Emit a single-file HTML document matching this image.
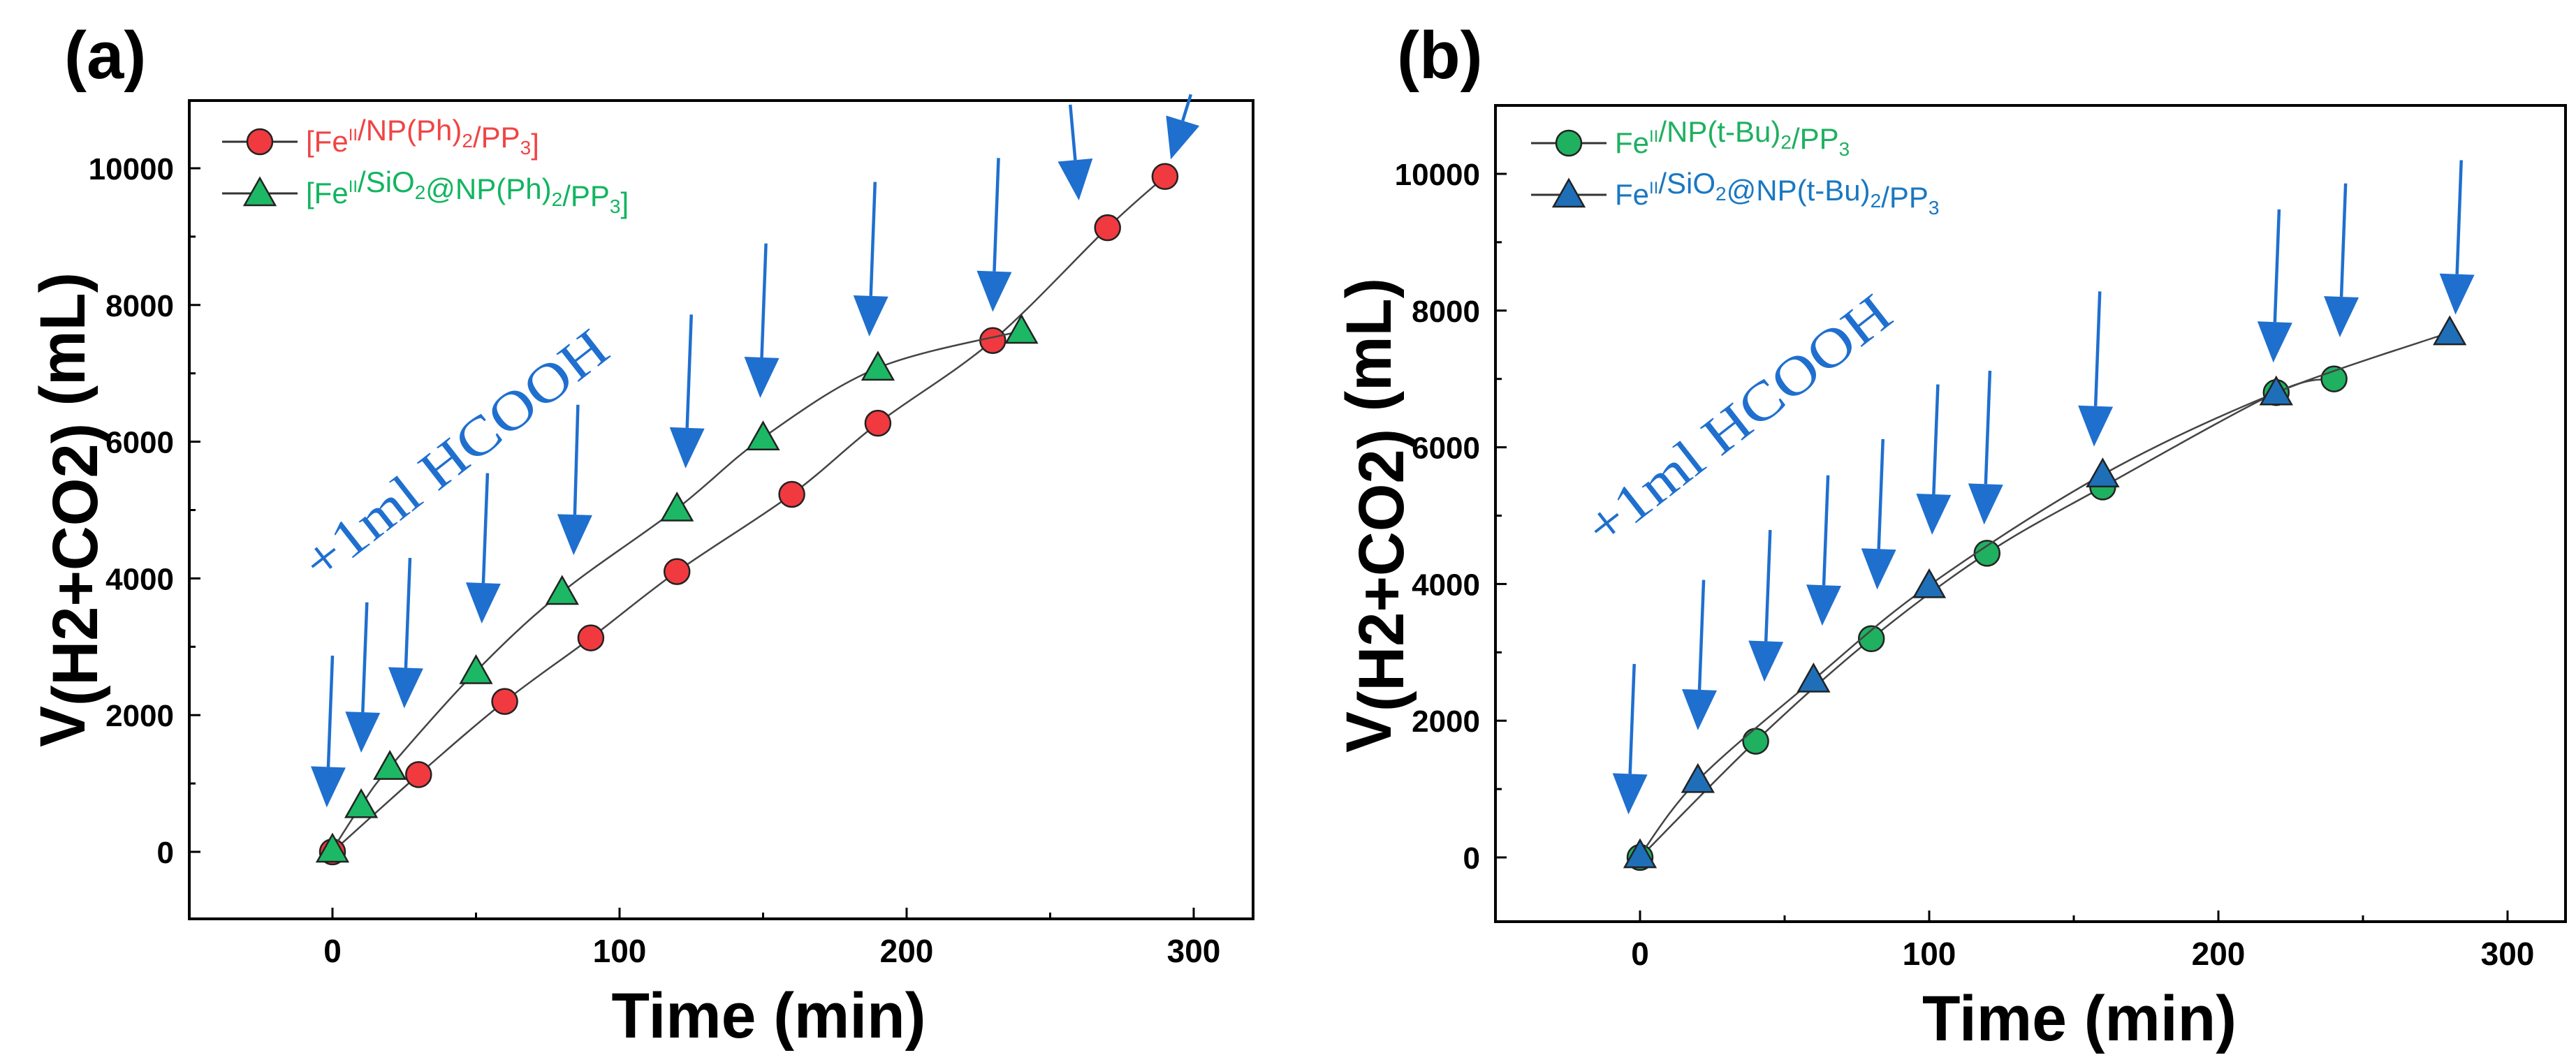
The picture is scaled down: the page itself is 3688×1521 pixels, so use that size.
<!DOCTYPE html>
<html><head><meta charset="utf-8">
<style>
html,body{margin:0;padding:0;background:#fff;}
svg{display:block;}
text{font-family:"Liberation Sans",sans-serif;}
</style></head>
<body>
<svg id="fig" width="3688" height="1521" viewBox="0 0 3688 1521" xmlns="http://www.w3.org/2000/svg">
<rect width="3688" height="1521" fill="#fff"/>
</svg>
<script>
// ---------- Panel (a) data ----------
const aRedX = [0,30,60,90,120,160,190,230,270,290];
const aRedY = [0,1130,2200,3130,4100,5230,6270,7480,9130,9880];
const aGreenX = [0,10,20,50,80,120,150,190,240];
const aGreenY = [30,680,1240,2640,3800,5020,6060,7080,7620];
const aArrowX = [-2,10,25,52,84,123,149,187,230,260,292];
const aArrowY = [650,1450,2100,3340,4340,5610,6640,7540,7900,9530,10130];
const aArrowDX = [2,2,2,2,1.5,2,2,2,2,-3,7];
const aArrowDY = [2220,2200,2200,2200,2200,2250,2260,2260,2250,1400,950];
// ---------- Panel (b) data ----------
const bGreenX = [0,40,80,120,160,220,240];
const bGreenY = [0,1700,3200,4450,5420,6800,7000];
const bBlueX = [0,20,60,100,160,220,280];
const bBlueY = [30,1130,2600,3980,5600,6800,7680];
const bArrowX = [-4,20,43,63,82,101,119,157,219,242,282];
const bArrowY = [630,1860,2570,3390,3920,4720,4870,6010,7240,7610,7940];
const bArrowDX = [2,2,2,2,2,2,2,2,2,2,2];
const bArrowDY = [2200,2200,2220,2200,2200,2200,2250,2270,2240,2250,2260];
// ---------- ticks ----------
const xTicks = [0,100,200,300];
const xMinor = [-50,50,150,250];
const yTicks = [0,2000,4000,6000,8000,10000];
const yMinor = [-1000,1000,3000,5000,7000,9000];

const NS="http://www.w3.org/2000/svg";
const svg=document.getElementById('fig');
function mk(tag,attrs,parent){const e=document.createElementNS(NS,tag);for(const k in attrs)e.setAttribute(k,attrs[k]);(parent||svg).appendChild(e);return e;}

function spline(pts){
  if(pts.length<2)return '';
  let d='M'+pts[0][0]+','+pts[0][1];
  for(let i=0;i<pts.length-1;i++){
    const p0=pts[Math.max(0,i-1)],p1=pts[i],p2=pts[i+1],p3=pts[Math.min(pts.length-1,i+2)];
    const c1x=p1[0]+(p2[0]-p0[0])/6,c1y=p1[1]+(p2[1]-p0[1])/6;
    const c2x=p2[0]-(p3[0]-p1[0])/6,c2y=p2[1]-(p3[1]-p1[1])/6;
    d+=' C'+c1x+','+c1y+' '+c2x+','+c2y+' '+p2[0]+','+p2[1];
  }
  return d;
}

function panel(cfg){
  const g=mk('g',{});
  
  
  const sx=v=>cfg.x0+(v/300)*(cfg.x300-cfg.x0);
  const sy=v=>cfg.y0-(v/10000)*(cfg.y0-cfg.y10k);
  const lab=mk('text',{x:cfg.labX,y:cfg.labY,'font-size':96,'font-weight':'bold',fill:'#000'},g);
  lab.textContent=cfg.label;
  
  
  const fr=mk('rect',{x:cfg.L,y:cfg.T,width:cfg.R-cfg.L,height:cfg.B-cfg.T,fill:'none',stroke:'#000','stroke-width':4},g);
  
  
  xTicks.forEach(v=>{
    const t=mk('line',{x1:sx(v),x2:sx(v),y1:cfg.B,y2:cfg.B-16,stroke:'#000','stroke-width':3},g);
    
    
    const tx=mk('text',{x:sx(v),y:cfg.B+62,'font-size':46,'font-weight':'bold','text-anchor':'middle'},g);
    tx.textContent=String(v);
    
    
  });
  xMinor.forEach(v=>{
    if(sx(v)<cfg.L||sx(v)>cfg.R)return;
    const t=mk('line',{x1:sx(v),x2:sx(v),y1:cfg.B,y2:cfg.B-9,stroke:'#000','stroke-width':3},g);
    
    
  });
  yTicks.forEach(v=>{
    const t=mk('line',{x1:cfg.L,x2:cfg.L+16,y1:sy(v),y2:sy(v),stroke:'#000','stroke-width':3},g);
    
    
    const tx=mk('text',{x:cfg.L-22,y:sy(v)+16,'font-size':44,'font-weight':'bold','text-anchor':'end'},g);
    tx.textContent=String(v);
    
    
  });
  yMinor.forEach(v=>{
    if(sy(v)>cfg.B-4||sy(v)<cfg.T+4)return;
    const t=mk('line',{x1:cfg.L,x2:cfg.L+9,y1:sy(v),y2:sy(v),stroke:'#000','stroke-width':3},g);
    
    
  });
  const xt=mk('text',{x:(cfg.x0+cfg.x300)/2+8,y:cfg.B+170,'font-size':92,'font-weight':'bold','text-anchor':'middle',textLength:450,lengthAdjust:'spacingAndGlyphs'},g);
  xt.textContent='Time (min)';
  
  
  const yt=mk('text',{transform:'translate('+(cfg.L-150)+','+(cfg.y0-490)+') rotate(-90)','font-size':92,'font-weight':'bold','text-anchor':'middle',textLength:680,lengthAdjust:'spacingAndGlyphs'},g);
  yt.innerHTML='V<tspan dy="18">(H2+CO2)</tspan><tspan dy="-18"> (mL)</tspan>';
  
  
  cfg.series.forEach(s=>{
    const pts=s.x.map((v,i)=>[sx(v),sy(s.y[i])]);
    const p=mk('path',{d:spline(pts),fill:'none',stroke:'#444','stroke-width':2.5},g);
    
    
    pts.forEach(pt=>drawMarker(g,s,pt[0],pt[1],s.name+'-point'));
  });
  cfg.arrows.x.forEach((v,i)=>{
    const tx=sx(v),ty=sy(cfg.arrows.y[i]);
    const bx=sx(v+cfg.arrows.dx[i]),by=sy(cfg.arrows.y[i]+cfg.arrows.dy[i]);
    const len=Math.hypot(bx-tx,by-ty),ux=(bx-tx)/len,uy=(by-ty)/len;
    const hl=58,hw=25;
    const hx=tx+ux*hl,hy=ty+uy*hl;
    const ag=mk('g',{},g);
    
    
    mk('line',{x1:bx,y1:by,x2:hx,y2:hy,stroke:'#1f6fcf','stroke-width':4.5},ag);
    mk('polygon',{points:tx+','+ty+' '+(hx-uy*hw)+','+(hy+ux*hw)+' '+(hx+uy*hw)+','+(hy-ux*hw),fill:'#1f6fcf'},ag);
  });
  const an=mk('text',{transform:'translate('+cfg.annX+','+cfg.annY+') rotate(-38)','font-size':78,style:'font-family:"Liberation Serif",serif',fill:'#1f6fcf','text-anchor':'middle',textLength:530,lengthAdjust:'spacingAndGlyphs'},g);
  an.textContent='+1ml HCOOH';
  
  
  cfg.series.forEach((s,i)=>{
    const ly=cfg.legY+i*74;
    const lg=mk('g',{},g);
    
    
    mk('line',{x1:cfg.legX,x2:cfg.legX+108,y1:ly,y2:ly,stroke:'#333','stroke-width':3},lg);
    drawMarker(lg,s,cfg.legX+54,ly,'legend-marker');
    const t=mk('text',{x:cfg.legX+120,y:ly+14,'font-size':42,fill:s.text},lg);
    t.innerHTML=s.html;
  });
}
function drawMarker(g,s,x,y,name){
  let m;
  if(s.shape==='circle'){
    m=mk('circle',{cx:x,cy:y,r:18,fill:s.fill,stroke:'#222','stroke-width':2.5},g);
  }else{
    m=mk('polygon',{points:x+','+(y-22)+' '+(x+22)+','+(y+17)+' '+(x-22)+','+(y+17),fill:s.fill,stroke:'#222','stroke-width':2.5},g);
  }
  
  
}
const sub=(t)=>'<tspan font-size="28" dy="10">'+t+'</tspan><tspan dy="-10"></tspan>';
const sup='<tspan font-size="24" dy="-16">II</tspan><tspan dy="16"></tspan>';
panel({name:'panel-a',label:'(a)',labX:92,labY:112,L:271,R:1794,T:144,B:1316,x0:476,x300:1709,y0:1220,y10k:241,
  legX:318,legY:203,annX:668,annY:672,
  series:[
    {name:'fe-np-ph',x:aRedX,y:aRedY,shape:'circle',fill:'#f03a3f',text:'#f04545',html:'[Fe'+sup+'/NP(Ph)'+sub('2')+'/PP'+sub('3')+']'},
    {name:'fe-sio2-np-ph',x:aGreenX,y:aGreenY,shape:'tri',fill:'#1db865',text:'#12b560',html:'[Fe'+sup+'/SiO'+sub('2')+'@NP(Ph)'+sub('2')+'/PP'+sub('3')+']'}
  ],
  arrows:{x:aArrowX,y:aArrowY,dx:aArrowDX,dy:aArrowDY}});
panel({name:'panel-b',label:'(b)',labX:2000,labY:112,L:2141,R:3673,T:151,B:1320,x0:2348,x300:3590,y0:1228,y10k:249,
  legX:2192,legY:205,annX:2505,annY:622,
  series:[
    {name:'fe-np-tbu',x:bGreenX,y:bGreenY,shape:'circle',fill:'#1fb060',text:'#1fb060',html:'Fe'+sup+'/NP(t-Bu)'+sub('2')+'/PP'+sub('3')},
    {name:'fe-sio2-np-tbu',x:bBlueX,y:bBlueY,shape:'tri',fill:'#1f6fb8',text:'#1a78c2',html:'Fe'+sup+'/SiO'+sub('2')+'@NP(t-Bu)'+sub('2')+'/PP'+sub('3')}
  ],
  arrows:{x:bArrowX,y:bArrowY,dx:bArrowDX,dy:bArrowDY}});
</script>
</body></html>
